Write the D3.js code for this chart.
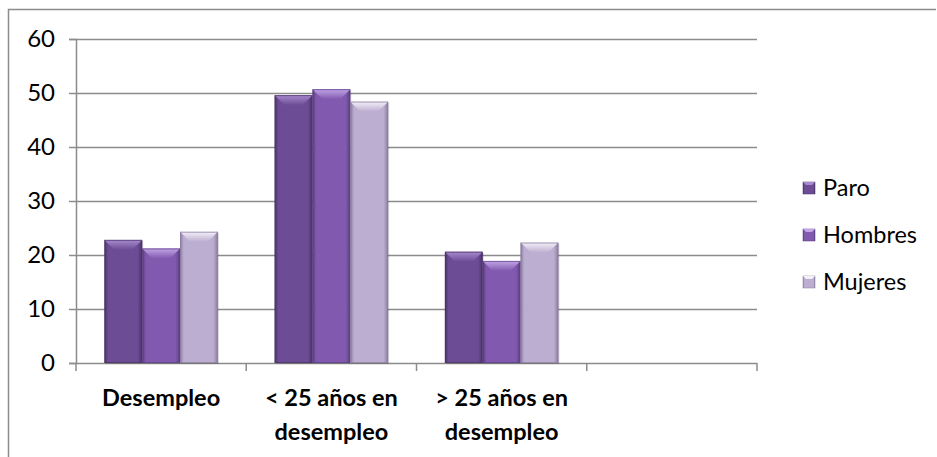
<!DOCTYPE html>
<html>
<head>
<meta charset="utf-8">
<script src="https://cdn.jsdelivr.net/npm/d3@7"></script>
<style>
  body { margin: 0; background: #fff; }
  svg text { font-family: Lato, "Open Sans", sans-serif; fill: #000; }
</style>
</head>
<body>
<div id="chart"></div>
<script>
// data
var categories = [["Desempleo"], ["< 25 años en", "desempleo"], ["> 25 años en", "desempleo"], [""]];
var seriesNames = ["Paro", "Hombres", "Mujeres"];
var paro = [22.8, 49.6, 20.6];
var hombres = [21.2, 50.7, 18.9];
var mujeres = [24.3, 48.4, 22.3];
var yTicks = [0, 10, 20, 30, 40, 50, 60];

var seriesValues = [paro, hombres, mujeres];
var colors = [
  { mid: "#6c4c94", edge: "#4a3268", top: "#a88bcf" },
  { mid: "#8159ae", edge: "#5b3d82", top: "#c2a6e8" },
  { mid: "#bcaed0", edge: "#8a7c9e", top: "#f4f0fa" }
];

var width = 937, height = 457;
var svg = d3.select("#chart").append("svg")
  .attr("width", width).attr("height", height);

// outer chart border
svg.append("path")
  .attr("d", "M8.5," + height + "V9.5H936")
  .attr("fill", "none").attr("stroke", "#8c8c8c").attr("stroke-width", 1.5);

var plotLeft = 76, plotRight = 757, plotTop = 39, plotBottom = 363;

var x = d3.scaleBand().domain(d3.range(categories.length)).range([plotLeft, plotRight]).paddingInner(0).paddingOuter(0);
var x1 = d3.scaleBand().domain(d3.range(seriesNames.length)).range([0, x.bandwidth()]).paddingOuter(0.75).paddingInner(0);
var y = d3.scaleLinear().domain([0, 60]).range([plotBottom, plotTop]);

var defs = svg.append("defs");
colors.forEach(function (c, i) {
  var g = defs.append("linearGradient").attr("id", "g" + i).attr("x1", 0).attr("x2", 1).attr("y1", 0).attr("y2", 0);
  g.append("stop").attr("offset", "0").attr("stop-color", c.edge);
  g.append("stop").attr("offset", "0.1").attr("stop-color", c.mid);
  g.append("stop").attr("offset", "0.88").attr("stop-color", c.mid);
  g.append("stop").attr("offset", "1").attr("stop-color", c.edge);
  var t = defs.append("linearGradient").attr("id", "t" + i).attr("x1", 0).attr("x2", 0).attr("y1", 0).attr("y2", 1);
  t.append("stop").attr("offset", "0").attr("stop-color", c.top);
  t.append("stop").attr("offset", "1").attr("stop-color", c.mid);
});

// gridlines
svg.append("g").selectAll("line").data(yTicks.filter(function (d) { return d > 0; })).enter()
  .append("line")
  .attr("x1", plotLeft).attr("x2", plotRight)
  .attr("y1", function (d) { return Math.round(y(d)) + 0.5; })
  .attr("y2", function (d) { return Math.round(y(d)) + 0.5; })
  .attr("stroke", "#8c8c8c").attr("stroke-width", 1.5);

// y axis
var yAxis = svg.append("g").attr("transform", "translate(" + plotLeft + ",0)")
  .call(d3.axisLeft(y).tickValues(yTicks).tickSize(7).tickPadding(14));
yAxis.selectAll("line, path").attr("stroke", "#8c8c8c").attr("stroke-width", 1.5);
yAxis.selectAll("text").attr("font-family", null).attr("font-size", null)
  .style("font-size", "24px").attr("fill", "#000");

// x axis
svg.append("line").attr("x1", plotLeft).attr("x2", plotRight).attr("y1", plotBottom + 0.5).attr("y2", plotBottom + 0.5)
  .attr("stroke", "#8c8c8c").attr("stroke-width", 1.5);
svg.append("g").selectAll("line").data(d3.range(categories.length + 1)).enter()
  .append("line")
  .attr("x1", function (d) { return plotLeft + d * x.step(); })
  .attr("x2", function (d) { return plotLeft + d * x.step(); })
  .attr("y1", plotBottom).attr("y2", plotBottom + 8)
  .attr("stroke", "#8c8c8c").attr("stroke-width", 1.5);

var labels = svg.append("g").selectAll("text").data(categories).enter()
  .append("text")
  .attr("text-anchor", "middle")
  .style("font-size", "23.5px").style("font-weight", "bold");
labels.each(function (lines, i) {
  var t = d3.select(this);
  lines.forEach(function (s, j) {
    t.append("tspan").attr("x", x(i) + x.bandwidth() / 2).attr("y", 406 + j * 34).text(s);
  });
});

// bars
var groups = svg.append("g").selectAll("g").data(seriesValues).enter()
  .append("g");
groups.each(function (vals, si) {
  var g = d3.select(this);
  var bw = x1.bandwidth();
  vals.forEach(function (v, ci) {
    var bx = x(ci) + x1(si);
    var by = y(v);
    var bh = y(0) - by;
    // shadow
    g.append("rect").attr("x", bx + 1).attr("y", by + 1).attr("width", bw).attr("height", bh)
      .attr("fill", "#000").attr("opacity", 0.15);
    g.append("rect").attr("x", bx).attr("y", by).attr("width", bw).attr("height", bh)
      .attr("fill", "url(#g" + si + ")");
    // top bevel
    var bev = 10;
    g.append("path")
      .attr("d", "M" + bx + "," + by + "H" + (bx + bw) + "L" + (bx + bw - bev) + "," + (by + bev) +
        "H" + (bx + bev) + "Z")
      .attr("fill", "url(#t" + si + ")");
    g.append("rect").attr("x", bx + 0.5).attr("y", by + 0.5).attr("width", bw - 1).attr("height", bh - 1)
      .attr("fill", "none").attr("stroke", colors[si].edge).attr("stroke-opacity", 0.7);
  });
});

// legend
var legend = svg.append("g").selectAll("g").data(seriesNames).enter()
  .append("g")
  .attr("transform", function (d, i) { return "translate(803," + (188 + i * 47) + ")"; });
legend.append("rect").attr("x", 0).attr("y", -6).attr("width", 12).attr("height", 12)
  .attr("fill", function (d, i) { return "url(#g" + i + ")"; })
  .attr("stroke", function (d, i) { return colors[i].edge; }).attr("stroke-width", 0.5);
legend.append("path")
  .attr("d", "M0,-6H12L9,-3H3Z")
  .attr("fill", function (d, i) { return colors[i].top; });
legend.append("text").attr("x", 20).attr("y", 8)
  .style("font-size", "23.5px").text(function (d) { return d; });
</script>
</body>
</html>
